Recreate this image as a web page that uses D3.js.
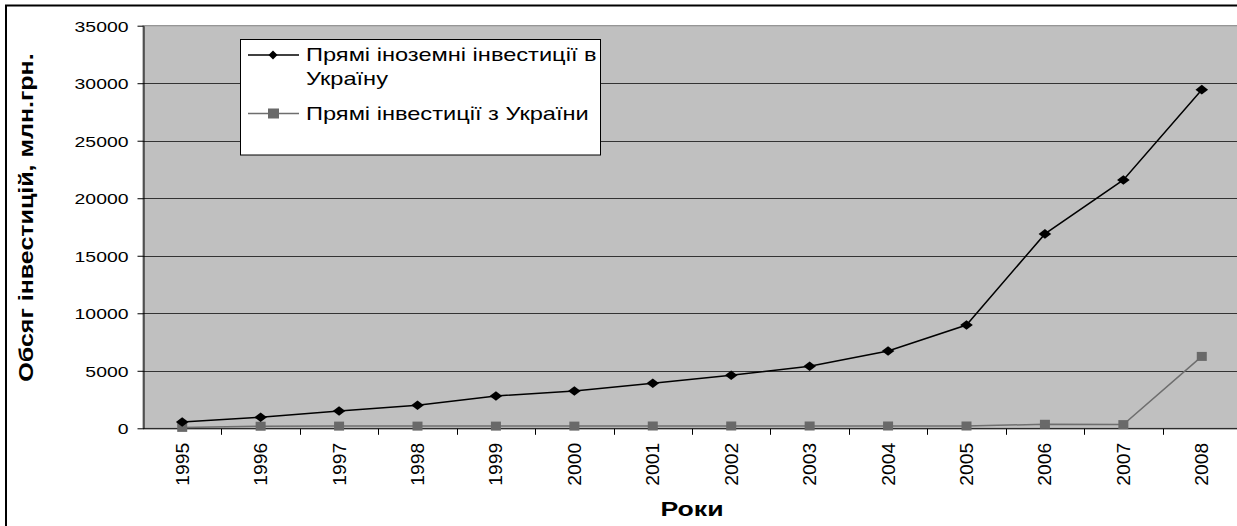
<!DOCTYPE html>
<html>
<head>
<meta charset="utf-8">
<script src="https://cdn.jsdelivr.net/npm/d3@7"></script>
<style>
  html, body { margin: 0; padding: 0; background: #fff; }
  svg { display: block; font-family: "Liberation Sans", Arial, sans-serif; }
</style>
</head>
<body>
<svg id="chart" width="1237" height="526"></svg>
<script>
// data
const years = ['1995','1996','1997','1998','1999','2000','2001','2002','2003','2004','2005','2006','2007','2008'];
const fdiIn = [550, 960, 1500, 2000, 2810, 3240, 3910, 4610, 5390, 6720, 8980, 16900, 21590, 29440];
const fdiOut = [80, 180, 190, 190, 190, 190, 200, 200, 200, 200, 200, 350, 320, 6250];
const yTicks = [0, 5000, 10000, 15000, 20000, 25000, 30000, 35000];
const seriesNames = ['Прямі іноземні інвестиції в', 'Україну', 'Прямі інвестиції з України'];
const yTitle = 'Обсяг інвестицій, млн.грн.';
const xTitle = 'Роки';

const svg = d3.select('#chart');

const plot = { left: 143, right: 1241, top: 25.7, bottom: 428.3 };

// stretch text along its baseline (the original looks widened)
function stretch(sel, k) {
    sel.each(function () {
        const w = this.getComputedTextLength();
        d3.select(this).attr('textLength', w * k).attr('lengthAdjust', 'spacingAndGlyphs');
    });
}

// outer frame (cut off at right / bottom)
svg.append('rect')
    .attr('x', 6).attr('y', 5.5)
    .attr('width', 1260).attr('height', 560)
    .attr('fill', 'none').attr('stroke', '#000').attr('stroke-width', 2);

const x = d3.scaleBand()
    .domain(years)
    .range([plot.left, plot.right]);

const y = d3.scaleLinear()
    .domain([0, 35000])
    .range([plot.bottom, plot.top]);

// plot area
svg.append('rect')
    .attr('x', plot.left).attr('y', plot.top)
    .attr('width', plot.right - plot.left).attr('height', plot.bottom - plot.top)
    .attr('fill', '#c0c0c0').attr('stroke', '#808080').attr('stroke-width', 1);

// gridlines
svg.append('g')
    .selectAll('line')
    .data(yTicks.filter(d => d > 0 && d < 35000))
    .join('line')
    .attr('x1', plot.left).attr('x2', plot.right)
    .attr('y1', d => Math.round(y(d)) + 0.5).attr('y2', d => Math.round(y(d)) + 0.5)
    .attr('stroke', '#333').attr('stroke-width', 1);

// y axis
const yAxis = svg.append('g')
    .attr('transform', 'translate(' + (plot.left + 0.5) + ',0)')
    .call(d3.axisLeft(y).tickValues(yTicks).tickSize(6).tickSizeOuter(0).tickFormat(d3.format('d')));
yAxis.select('.domain').attr('stroke', '#000');
yAxis.selectAll('.tick line').attr('stroke', '#000');
yAxis.selectAll('.tick text')
    .attr('x', -15).attr('dy', '0.36em')
    .attr('font-size', 15.4).attr('fill', '#000')
    .attr('font-family', '"Liberation Sans", Arial, sans-serif')
    .call(stretch, 1.26);

// x axis with ticks between categories
const xAxis = svg.append('g')
    .attr('transform', 'translate(0,' + (plot.bottom + 0.5) + ')');
xAxis.append('line')
    .attr('x1', plot.left).attr('x2', plot.right)
    .attr('stroke', '#000');
xAxis.selectAll('.tk')
    .data(years.slice(1))
    .join('line')
    .attr('class', 'tk')
    .attr('x1', d => Math.round(x(d)) + 0.5).attr('x2', d => Math.round(x(d)) + 0.5)
    .attr('y1', 0).attr('y2', 6)
    .attr('stroke', '#000');
xAxis.selectAll('text')
    .data(years)
    .join('text')
    .attr('transform', d => 'translate(' + (x(d) + x.bandwidth() / 2 + 6.5) + ',' + 14 + ') rotate(-90)')
    .attr('text-anchor', 'end')
    .attr('font-size', 17.5)
    .text(d => d)
    .call(stretch, 1.1);

// lines
const lineGen = d3.line()
    .x((d, i) => x(years[i]) + x.bandwidth() / 2)
    .y(d => y(d));

svg.append('path')
    .datum(fdiOut)
    .attr('d', lineGen)
    .attr('fill', 'none').attr('stroke', '#6e6e6e').attr('stroke-width', 1.5);

svg.append('g')
    .selectAll('rect')
    .data(fdiOut)
    .join('rect')
    .attr('x', (d, i) => x(years[i]) + x.bandwidth() / 2 - 5)
    .attr('y', d => y(d) - 4.5)
    .attr('width', 10).attr('height', 9)
    .attr('fill', '#696969');

svg.append('path')
    .datum(fdiIn)
    .attr('d', lineGen)
    .attr('fill', 'none').attr('stroke', '#000').attr('stroke-width', 1.5);

svg.append('g')
    .selectAll('path')
    .data(fdiIn)
    .join('path')
    .attr('transform', (d, i) => 'translate(' + (x(years[i]) + x.bandwidth() / 2) + ',' + y(d) + ')')
    .attr('d', 'M-6.3,0L0,-4.8L6.3,0L0,4.8Z')
    .attr('fill', '#000');

// legend
const lg = svg.append('g');
lg.append('rect')
    .attr('x', 240.5).attr('y', 39.5).attr('width', 360).attr('height', 115.5)
    .attr('fill', '#fff').attr('stroke', '#000').attr('stroke-width', 1);
lg.append('line').attr('x1', 248).attr('x2', 299).attr('y1', 55).attr('y2', 55).attr('stroke', '#000').attr('stroke-width', 1.5);
lg.append('path').attr('transform', 'translate(273,55)').attr('d', 'M-4.5,0L0,-4.5L4.5,0L0,4.5Z').attr('fill', '#000');
lg.append('line').attr('x1', 248).attr('x2', 299).attr('y1', 113.5).attr('y2', 113.5).attr('stroke', '#6e6e6e').attr('stroke-width', 1.5);
lg.append('rect').attr('x', 268).attr('y', 108.5).attr('width', 11).attr('height', 10).attr('fill', '#696969');
lg.selectAll('text')
    .data([[seriesNames[0], 60.7], [seriesNames[1], 85], [seriesNames[2], 120]])
    .join('text')
    .attr('x', 306).attr('y', d => d[1])
    .attr('font-size', 18.6)
    .text(d => d[0])
    .call(stretch, 1.27);

// axis titles
svg.append('text')
    .attr('transform', 'translate(33,217.5) rotate(-90)')
    .attr('text-anchor', 'middle')
    .attr('font-size', 20).attr('font-weight', 'bold')
    .text(yTitle)
    .call(stretch, 1.25);

svg.append('text')
    .attr('x', (plot.left + plot.right) / 2).attr('y', 516)
    .attr('text-anchor', 'middle')
    .attr('font-size', 21).attr('font-weight', 'bold')
    .text(xTitle)
    .call(stretch, 1.27);
</script>
</body>
</html>
